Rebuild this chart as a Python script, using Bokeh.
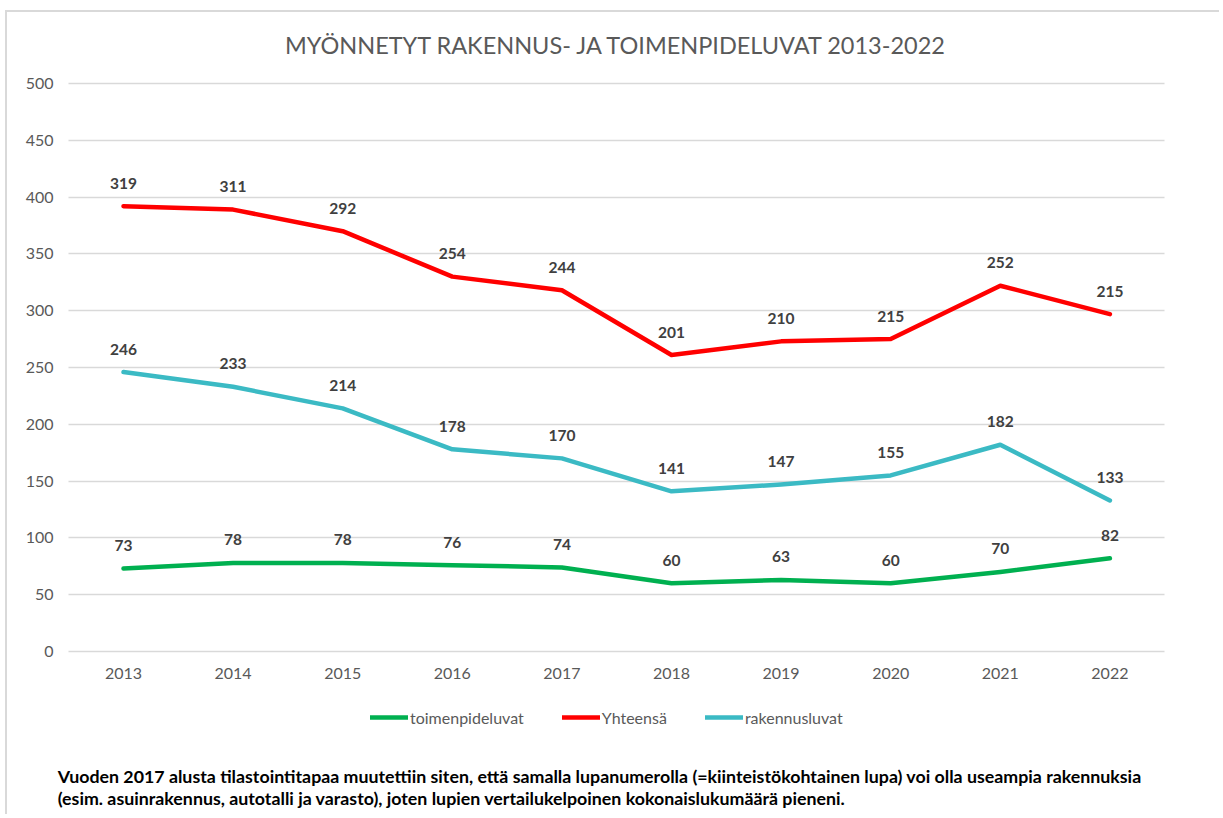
from bokeh.plotting import figure
from bokeh.models import ColumnDataSource, LabelSet, Label, Legend, LegendItem, FixedTicker, Range1d
from bokeh.embed import file_html
from bokeh.resources import INLINE
from bokeh.core.properties import value

years = [2013, 2014, 2015, 2016, 2017, 2018, 2019, 2020, 2021, 2022]
toimenpideluvat = [73, 78, 78, 76, 74, 60, 63, 60, 70, 82]
yhteensa = [319, 311, 292, 254, 244, 201, 210, 215, 252, 215]
rakennusluvat = [246, 233, 214, 178, 170, 141, 147, 155, 182, 133]
y_ticks = [0, 50, 100, 150, 200, 250, 300, 350, 400, 450, 500]

title_text = "MYÖNNETYT RAKENNUS- JA TOIMENPIDELUVAT 2013-2022"
note_lines = [
    "Vuoden 2017 alusta tilastointitapaa muutettiin siten, että samalla lupanumerolla (=kiinteistökohtainen lupa)  voi olla useampia rakennuksia",
    "(esim. asuinrakennus, autotalli ja varasto), joten lupien vertailukelpoinen kokonaislukumäärä pieneni.",
]

GREEN = "#00B050"
RED = "#FF0000"
CYAN = "#3BBAC4"
FONT = "Lato"

# the total series is drawn stacked on top of toimenpideluvat (as in the original)
yhteensa_plot = [a + b for a, b in zip(yhteensa, toimenpideluvat)]

# layout geometry (page pixels)
OFF_X, OFF_Y = 7, 12          # css margin + border
W, H = 1214, 804
BORDER_L = 48                 # frame left at page x = 55
FRAME_L = OFF_X + BORDER_L
FRAME_T = OFF_Y
FRAME_R = OFF_X + W
FRAME_B = OFF_Y + H
X0_PX, X_STEP = 123.0, 109.6  # page x of first category, px per category
Y0_PX, Y_SCALE = 651.0, 568.0 / 500.0

x_start = years[0] + (FRAME_L - X0_PX) / X_STEP
x_end = years[0] + (FRAME_R - X0_PX) / X_STEP
y_end = (Y0_PX - FRAME_T) / Y_SCALE
y_start = (Y0_PX - FRAME_B) / Y_SCALE

p = figure(width=W, height=H, output_backend="svg", toolbar_location=None,
           x_range=Range1d(x_start, x_end), y_range=Range1d(y_start, y_end),
           min_border_left=BORDER_L, min_border_right=0, min_border_top=0, min_border_bottom=0)
p.outline_line_color = None
p.styles = {"border-left": "2px solid #d9d9d9", "border-top": "2px solid #d9d9d9",
            "margin-left": "5px", "margin-top": "10px"}

src_g = ColumnDataSource(dict(x=years, y=toimenpideluvat, t=[str(v) for v in toimenpideluvat]))
src_r = ColumnDataSource(dict(x=years, y=yhteensa_plot, t=[str(v) for v in yhteensa]))
src_c = ColumnDataSource(dict(x=years, y=rakennusluvat, t=[str(v) for v in rakennusluvat]))

rg = p.line("x", "y", source=src_g, line_color=GREEN, line_width=4.5, line_cap="round", line_join="round")
rr = p.line("x", "y", source=src_r, line_color=RED, line_width=4.5, line_cap="round", line_join="round")
rc = p.line("x", "y", source=src_c, line_color=CYAN, line_width=4.5, line_cap="round", line_join="round")

for src in (src_g, src_r, src_c):
    p.add_layout(LabelSet(x="x", y="y", text="t", source=src, y_offset=23,
                          text_align="center", text_baseline="middle",
                          text_font=value(FONT), text_font_style="bold",
                          text_font_size="15.5px", text_color="#404040"))

# axes
p.xaxis.ticker = FixedTicker(ticks=years)
p.xaxis.fixed_location = 0
p.yaxis.ticker = FixedTicker(ticks=y_ticks)
for ax in (p.xaxis, p.yaxis):
    ax.axis_line_color = None
    ax.major_tick_line_color = None
    ax.minor_tick_line_color = None
    ax.major_label_text_font = FONT
    ax.major_label_text_font_size = "16px"
    ax.major_label_text_color = "#595959"
p.xaxis.major_label_standoff = 10
p.yaxis.major_label_standoff = -4
p.xgrid.grid_line_color = None
p.ygrid.grid_line_color = "#d9d9d9"
p.ygrid.grid_line_width = 1.5
p.ygrid.cross_bounds = (years[0] - 0.5, years[-1] + 0.5)

# title
p.add_layout(Label(x=(years[0] + years[-1]) / 2, y=533.5, text=title_text,
                   text_align="center", text_baseline="middle",
                   text_font=FONT, text_font_size="23.5px", text_color="#595959"))

# legend
legend = Legend(items=[LegendItem(label="toimenpideluvat", renderers=[rg]),
                       LegendItem(label="Yhteensä", renderers=[rr]),
                       LegendItem(label="rakennusluvat", renderers=[rc])],
                orientation="horizontal", location=(370 - FRAME_L, FRAME_B - 727),
                glyph_width=38, glyph_height=20,
                label_standoff=2, spacing=38, padding=0, margin=0,
                border_line_color=None, background_fill_alpha=0,
                label_text_font=FONT, label_text_font_size="16px", label_text_color="#595959")
p.add_layout(legend)

# footnote
for i, line in enumerate(note_lines):
    p.add_layout(Label(x=years[0] - 0.6, y=-109.2 - 19.4 * i, text=line,
                       text_align="left", text_baseline="middle",
                       text_font=FONT, text_font_style="bold", text_font_size="17.8px",
                       text_color="#000000"))

open("out.html", "w").write(file_html(p, INLINE))
